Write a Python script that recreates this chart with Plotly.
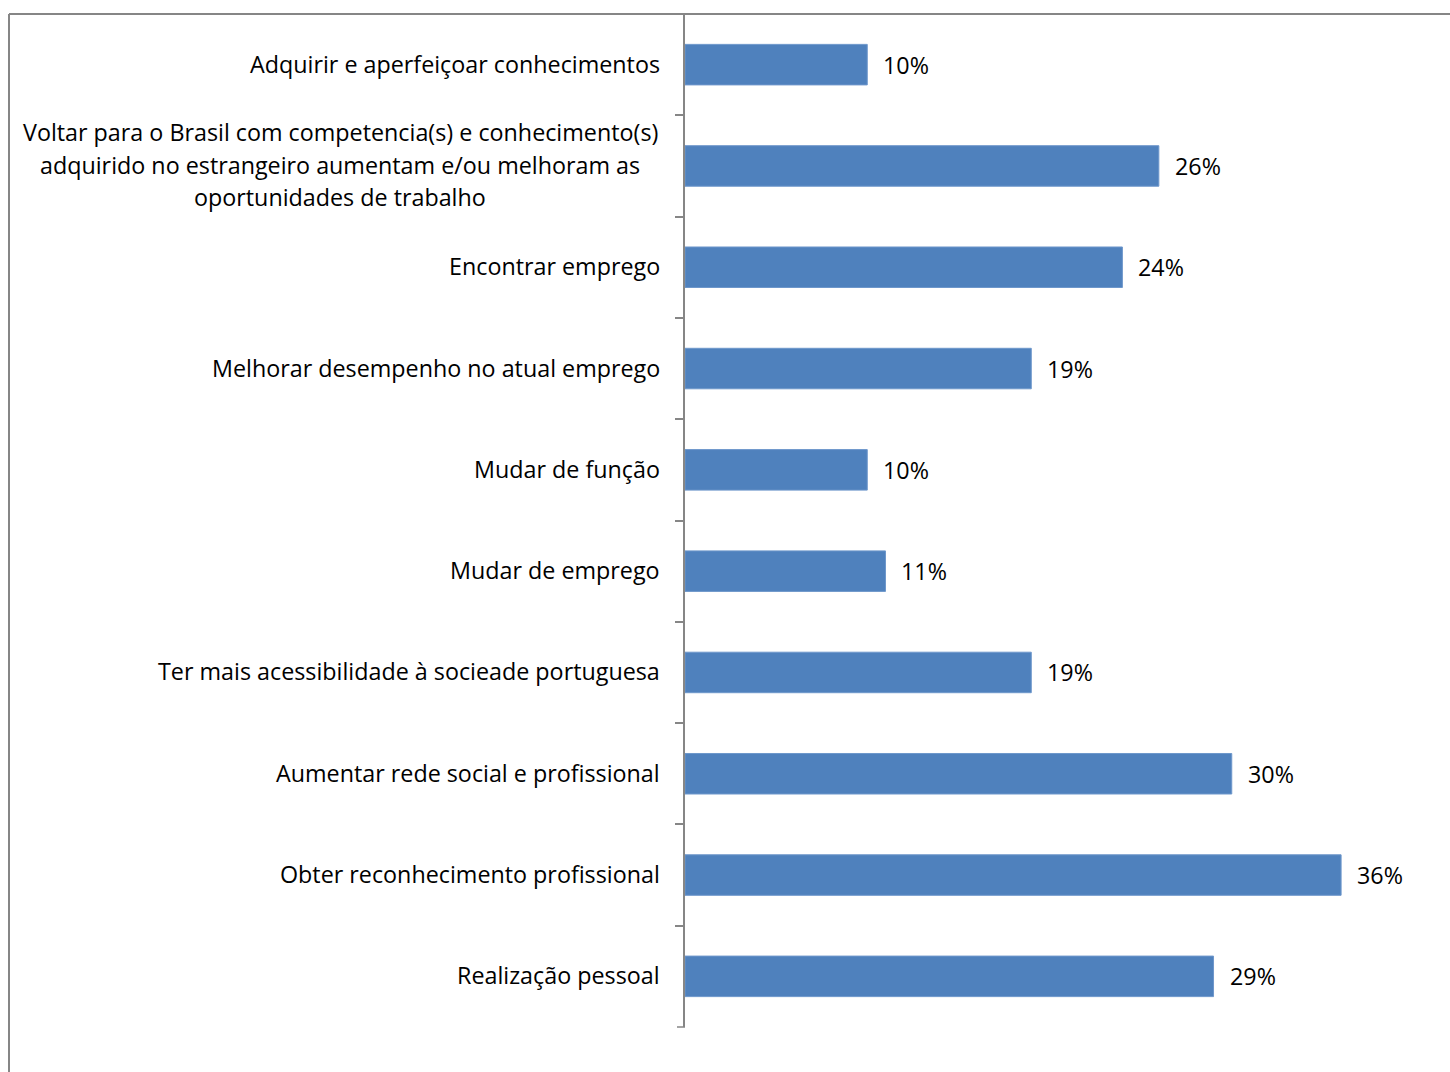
import plotly.graph_objects as go

# Motivos (respostas) e percentagem de inquiridos
categorias = [
    "Adquirir e aperfeiçoar conhecimentos",
    "Voltar para o Brasil com competencia(s) e conhecimento(s)<br>adquirido no estrangeiro aumentam e/ou melhoram as<br>oportunidades de trabalho",
    "Encontrar emprego",
    "Melhorar desempenho no atual emprego",
    "Mudar de função",
    "Mudar de emprego",
    "Ter mais acessibilidade à socieade portuguesa",
    "Aumentar rede social e profissional",
    "Obter reconhecimento profissional",
    "Realização pessoal",
]
percentagens = [0.10, 0.26, 0.24, 0.19, 0.10, 0.11, 0.19, 0.30, 0.36, 0.29]

FONT = "Open Sans"
SIZE = 23.3
GRAY = "#868686"
BAR = "#4F81BD"

W, H = 1450, 1072
L, R, T, B = 685, 36, 14, 45
pw, ph = W - L - R, H - T - B
LABEL_GAP = 23      # px between single-line labels and the axis line
WRAP_CENTRE = 345   # px from the axis to the centre of a wrapped label
LINE_H = 32.5       # px between lines of a wrapped label

fig = go.Figure(
    go.Bar(
        x=percentagens,
        y=categorias,
        orientation="h",
        width=0.4,
        marker=dict(color=BAR, line=dict(color="#6E97CB", width=1)),
        hoverinfo="skip",
    )
)

annotations = []
# Category labels to the left of the axis; wrapped labels are centred line by line
for c in categorias:
    lines = c.split("<br>")
    if len(lines) == 1:
        annotations.append(dict(
            x=0, xref="paper", y=c, yref="y", text=c, showarrow=False,
            xanchor="right", yanchor="middle", xshift=-LABEL_GAP, yshift=1,
            font=dict(family=FONT, size=SIZE, color="#000000"),
        ))
    else:
        n = len(lines)
        for i, ln in enumerate(lines):
            annotations.append(dict(
                x=0, xref="paper", y=c, yref="y", text=ln, showarrow=False,
                xanchor="center", yanchor="middle", xshift=-WRAP_CENTRE,
                yshift=((n - 1) / 2 - i) * LINE_H + 1,
                font=dict(family=FONT, size=SIZE, color="#000000"),
            ))
# Value labels at the end of each bar
for c, v in zip(categorias, percentagens):
    annotations.append(dict(
        x=v, xref="x", y=c, yref="y", text=f"{round(v * 100)}%", showarrow=False,
        xanchor="left", yanchor="middle", xshift=14, yshift=0,
        font=dict(family=FONT, size=SIZE, color="#000000"),
    ))

# Chart-area border (left and top edges visible) and closing tick at the axis foot
x_left = (9 - L) / pw
shapes = [
    dict(type="line", xref="paper", yref="paper", x0=x_left, x1=x_left,
         y0=1.0, y1=-0.2, line=dict(color=GRAY, width=2)),
    dict(type="line", xref="paper", yref="paper", x0=x_left, x1=1.2,
         y0=1.0, y1=1.0, line=dict(color=GRAY, width=2)),
    dict(type="line", xref="paper", yref="paper", x0=-8 / pw, x1=0,
         y0=0, y1=0, line=dict(color=GRAY, width=1.5)),
]

fig.update_layout(
    width=W, height=H,
    margin=dict(l=L, r=R, t=T, b=B, pad=0),
    paper_bgcolor="white", plot_bgcolor="white",
    showlegend=False,
    annotations=annotations,
    shapes=shapes,
    xaxis=dict(range=[0, 0.4], visible=False, fixedrange=True),
    yaxis=dict(
        type="category", autorange="reversed",
        showticklabels=False, showgrid=False,
        showline=True, linecolor=GRAY, linewidth=1.5,
        ticks="outside", tickson="boundaries", ticklen=8,
        tickcolor=GRAY, tickwidth=1.5,
        zeroline=False,
    ),
)

fig.write_html("out.html")
